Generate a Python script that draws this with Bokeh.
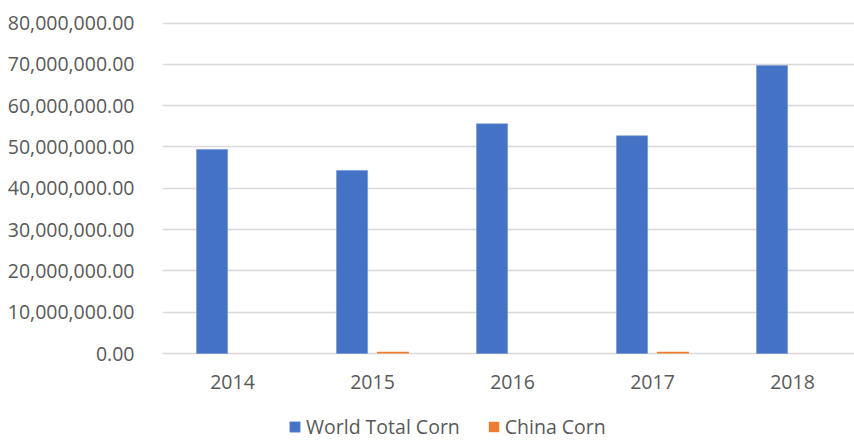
from bokeh.plotting import figure
from bokeh.models import (ColumnDataSource, Range1d, FixedTicker, NumeralTickFormatter,
                          Legend, LegendItem)
from bokeh.core.properties import value
from bokeh.transform import dodge
from bokeh.embed import file_html
from bokeh.resources import INLINE

years = ["2014", "2015", "2016", "2017", "2018"]
world_total_corn = [49400000, 44300000, 55600000, 52700000, 69700000]
china_corn = [0, 450000, 0, 450000, 0]
y_ticks = [0, 10000000, 20000000, 30000000, 40000000, 50000000, 60000000, 70000000, 80000000]

idx = list(range(len(years)))
src = ColumnDataSource(dict(x=idx, world=world_total_corn, china=china_corn, year=years,
                            label_y=[-7000000] * len(years)))

FONT = "Open Sans"
TXT = "#595959"
GRID = "#d9d9d9"
FS = "19.5px"

p = figure(width=854, height=441, output_backend="svg", toolbar_location=None,
           x_range=Range1d(-0.5, 4.443), y_range=Range1d(-21300000, 80370000),
           min_border_left=162, min_border_right=0, min_border_top=21, min_border_bottom=0)
p.outline_line_color = None
p.background_fill_color = "white"
p.border_fill_color = "white"
p.xaxis.visible = False

r1 = p.vbar(x=dodge("x", -0.146, range=p.x_range), top="world", width=0.222,
            source=src, fill_color="#4472C4", line_color="#6f93d3", line_width=0.6)
r2 = p.vbar(x=dodge("x", 0.146, range=p.x_range), top="china", width=0.229,
            source=src, fill_color="#ED7D31", line_color=None)

# category labels
p.text(x="x", y="label_y", text="year", source=src, text_align="center",
       text_baseline="middle", text_font=value(FONT), text_font_size=FS,
       text_color=TXT)

p.yaxis.ticker = FixedTicker(ticks=y_ticks)
p.yaxis.formatter = NumeralTickFormatter(format="0,0.00")
p.yaxis.major_tick_line_color = None
p.yaxis.minor_tick_line_color = None
p.yaxis.axis_line_color = None
p.yaxis.major_label_standoff = 22
p.yaxis.major_label_text_font = FONT
p.yaxis.major_label_text_font_size = FS
p.yaxis.major_label_text_color = TXT

p.xgrid.grid_line_color = None
p.ygrid.ticker = FixedTicker(ticks=y_ticks)
p.ygrid.grid_line_color = GRID
p.ygrid.grid_line_width = 1.5

legend = Legend(items=[LegendItem(label="World Total Corn", renderers=[r1]),
                       LegendItem(label="China Corn", renderers=[r2])],
                orientation="horizontal", location=(126, 1),
                glyph_width=13, glyph_height=13, label_standoff=5, spacing=27,
                padding=0, margin=0, border_line_color=None, background_fill_alpha=0,
                label_text_font=FONT, label_text_font_size=FS, label_text_color=TXT)
p.add_layout(legend, "center")

open("out.html", "w").write(file_html(p, INLINE))
